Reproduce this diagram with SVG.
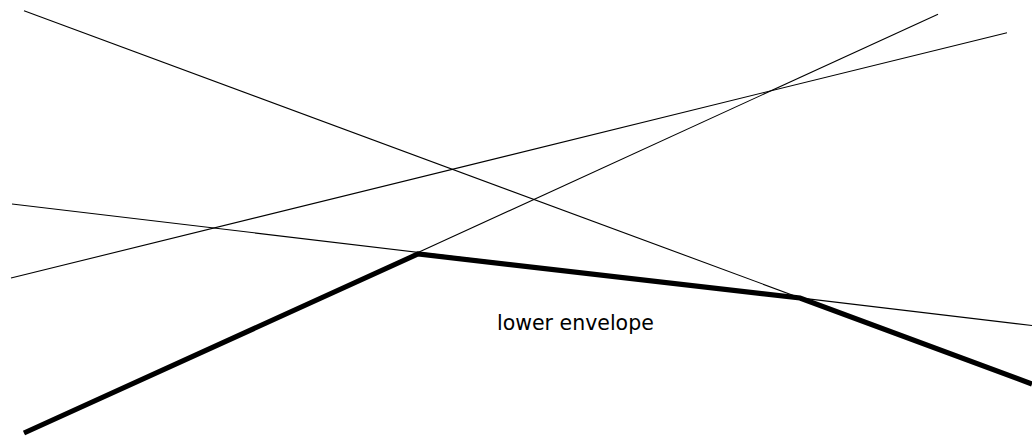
<svg xmlns="http://www.w3.org/2000/svg" width="1032" height="439" viewBox="0 0 1032 439">
  <style>
    .line { stroke: #000; stroke-width: 1.1; fill: none; }
    .env { stroke: #000; stroke-width: 5.2; fill: none; stroke-linejoin: miter; }
    .label { font-family: "DejaVu Sans", sans-serif; font-size: 20.5px; fill: #000; }
  </style>
  <rect width="1032" height="439" fill="#fff"/>
  <g id="connectors">
    <!-- four lines -->
    <line class="line" x1="24" y1="10.7" x2="1032" y2="383.7"/>
    <line class="line" x1="12" y1="204" x2="1032" y2="325.5"/>
    <line class="line" x1="24" y1="433" x2="938" y2="14.3"/>
    <line class="line" x1="11" y1="278" x2="1007" y2="32.7"/>
    <!-- lower envelope -->
    <polyline class="env" points="24,433 418,254 800,298 1032,384"/>
  </g>
  <g id="label">
    <text class="label" x="497" y="330">lower envelope</text>
  </g>
</svg>
